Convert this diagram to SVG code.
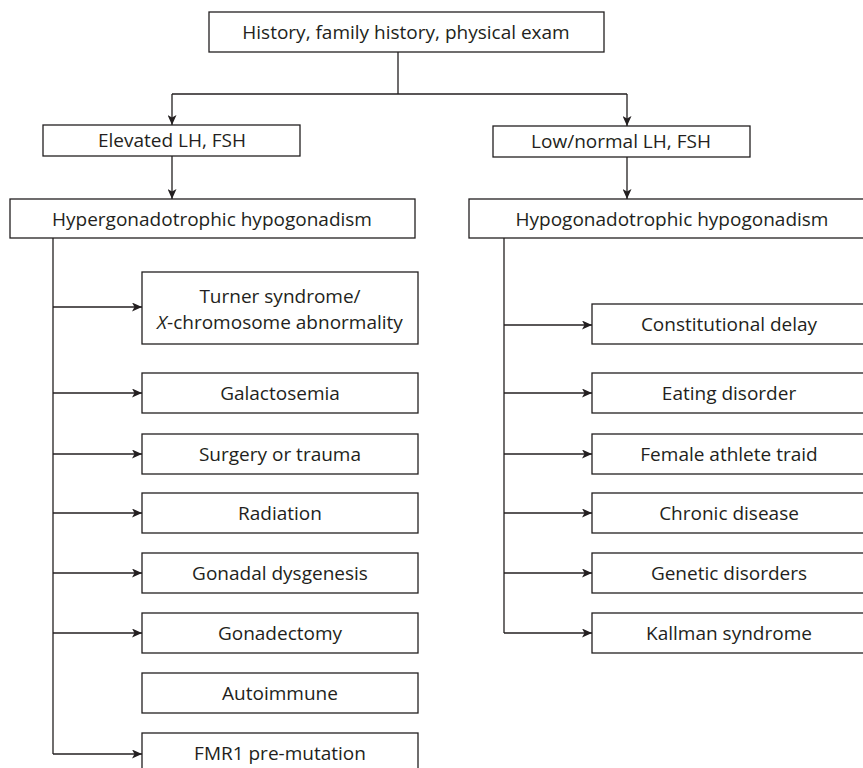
<svg xmlns="http://www.w3.org/2000/svg" width="863" height="768" viewBox="0 0 863 768">
<defs>
<marker id="arr" viewBox="0 0 10 9" refX="10" refY="4.5" markerWidth="10" markerHeight="9" markerUnits="userSpaceOnUse" orient="auto">
<path d="M0,0 L10,4.5 L0,9 L2.5,4.5 z" fill="#231f20"/>
</marker>
<style>
.box{fill:#fff;stroke:#231f20;stroke-width:1.3}
.t{font-family:"Open Sans","Liberation Sans",sans-serif;font-size:19px;fill:#231f20;text-anchor:middle}
.c{fill:none;stroke:#231f20;stroke-width:1.3}
</style>
</defs>
<rect width="863" height="768" fill="#fff"/>
<g id="connectors">
<path class="c" d="M398,52 V94 M172,94 H627"/>
<path class="c" d="M172,94 V125" marker-end="url(#arr)"/>
<path class="c" d="M627,94 V126" marker-end="url(#arr)"/>
<path class="c" d="M172,156 V199" marker-end="url(#arr)"/>
<path class="c" d="M627,157 V199" marker-end="url(#arr)"/>
<path class="c" d="M53,238 V754"/>
<path class="c" d="M53,307 H142" marker-end="url(#arr)"/>
<path class="c" d="M53,393 H142" marker-end="url(#arr)"/>
<path class="c" d="M53,454 H142" marker-end="url(#arr)"/>
<path class="c" d="M53,513 H142" marker-end="url(#arr)"/>
<path class="c" d="M53,573 H142" marker-end="url(#arr)"/>
<path class="c" d="M53,633 H142" marker-end="url(#arr)"/>
<path class="c" d="M53,754 H142" marker-end="url(#arr)"/>
<path class="c" d="M504,238 V633"/>
<path class="c" d="M504,325 H592" marker-end="url(#arr)"/>
<path class="c" d="M504,393 H592" marker-end="url(#arr)"/>
<path class="c" d="M504,454 H592" marker-end="url(#arr)"/>
<path class="c" d="M504,513 H592" marker-end="url(#arr)"/>
<path class="c" d="M504,573 H592" marker-end="url(#arr)"/>
<path class="c" d="M504,633 H592" marker-end="url(#arr)"/>
</g>
<g id="n-history"><rect class="box" x="209" y="12" width="395" height="40"/><text class="t" x="406" y="39">History, family history, physical exam</text></g>
<g id="n-elevated"><rect class="box" x="43" y="125" width="257" height="31"/><text class="t" x="172" y="147">Elevated LH, FSH</text></g>
<g id="n-low"><rect class="box" x="493" y="126" width="257" height="31"/><text class="t" x="621" y="148">Low/normal LH, FSH</text></g>
<g id="n-hyper"><rect class="box" x="10" y="199" width="405" height="39"/><text class="t" x="212" y="226">Hypergonadotrophic hypogonadism</text></g>
<g id="n-hypo"><rect class="box" x="469" y="199" width="406" height="39"/><text class="t" x="672" y="226">Hypogonadotrophic hypogonadism</text></g>
<g id="n-turner"><rect class="box" x="142" y="272" width="276" height="72"/><text class="t" x="280" y="303">Turner syndrome/</text><text class="t" x="280" y="329"><tspan font-style="italic">X</tspan>-chromosome abnormality</text></g>
<g id="n-galacto"><rect class="box" x="142" y="373" width="276" height="40"/><text class="t" x="280" y="400">Galactosemia</text></g>
<g id="n-surgery"><rect class="box" x="142" y="434" width="276" height="40"/><text class="t" x="280" y="461">Surgery or trauma</text></g>
<g id="n-radiation"><rect class="box" x="142" y="493" width="276" height="40"/><text class="t" x="280" y="520">Radiation</text></g>
<g id="n-gonadal"><rect class="box" x="142" y="553" width="276" height="40"/><text class="t" x="280" y="580">Gonadal dysgenesis</text></g>
<g id="n-gonadectomy"><rect class="box" x="142" y="613" width="276" height="40"/><text class="t" x="280" y="640">Gonadectomy</text></g>
<g id="n-autoimmune"><rect class="box" x="142" y="673" width="276" height="40"/><text class="t" x="280" y="700">Autoimmune</text></g>
<g id="n-fmr1"><rect class="box" x="142" y="733" width="276" height="40"/><text class="t" x="280" y="760">FMR1 pre-mutation</text></g>
<g id="n-constitutional"><rect class="box" x="592" y="304" width="275" height="40"/><text class="t" x="729" y="331">Constitutional delay</text></g>
<g id="n-eating"><rect class="box" x="592" y="373" width="275" height="40"/><text class="t" x="729" y="400">Eating disorder</text></g>
<g id="n-athlete"><rect class="box" x="592" y="434" width="275" height="40"/><text class="t" x="729" y="461">Female athlete traid</text></g>
<g id="n-chronic"><rect class="box" x="592" y="493" width="275" height="40"/><text class="t" x="729" y="520">Chronic disease</text></g>
<g id="n-genetic"><rect class="box" x="592" y="553" width="275" height="40"/><text class="t" x="729" y="580">Genetic disorders</text></g>
<g id="n-kallman"><rect class="box" x="592" y="613" width="275" height="40"/><text class="t" x="729" y="640">Kallman syndrome</text></g>
</svg>
